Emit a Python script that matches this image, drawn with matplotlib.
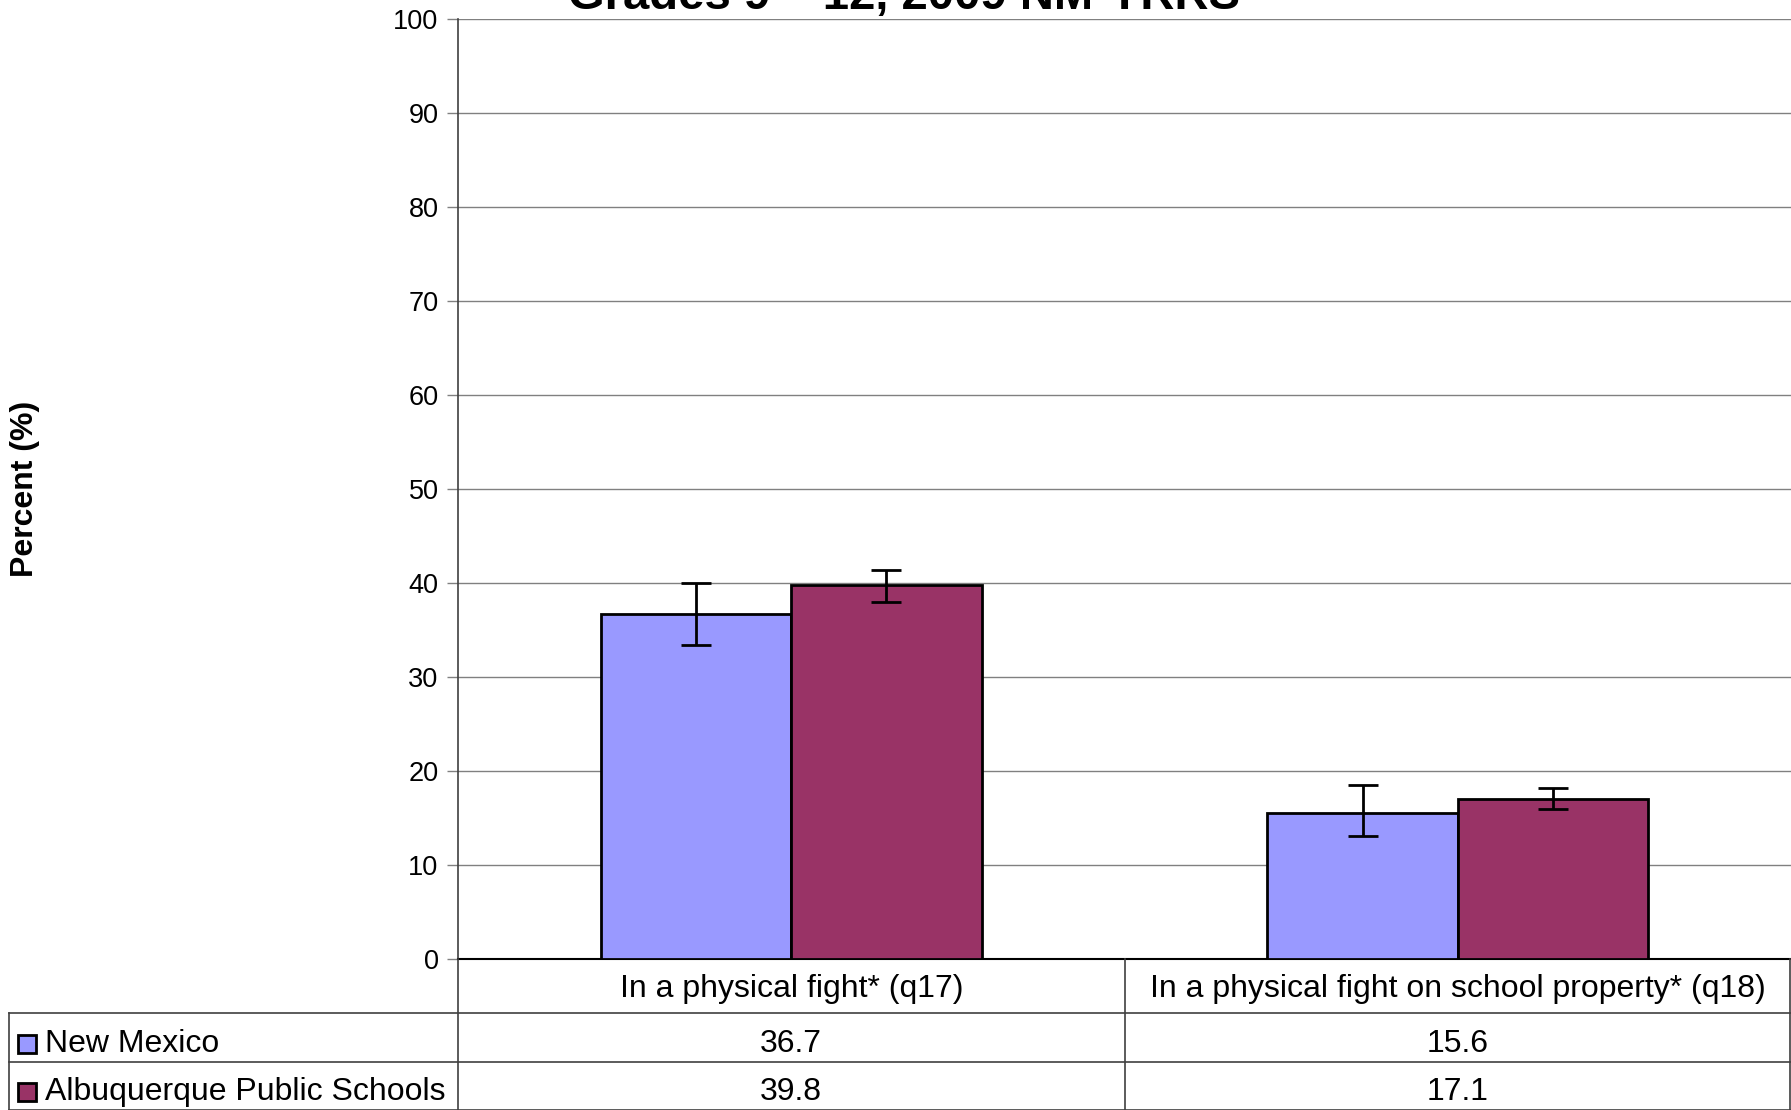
import matplotlib.pyplot as plt
import matplotlib.patches as mpatches
from matplotlib.lines import Line2D

plt.rcParams['font.family'] = ['Liberation Sans', 'DejaVu Sans']

# data
categories = ['In a physical fight* (q17)', 'In a physical fight on school property* (q18)']
series_names = ['New Mexico', 'Albuquerque Public Schools']
nm_values = [36.7, 15.6]
aps_values = [39.8, 17.1]
nm_lower = [33.4, 13.1]
nm_upper = [40.0, 18.5]
aps_lower = [38.0, 16.0]
aps_upper = [41.4, 18.2]
yticks = [0, 10, 20, 30, 40, 50, 60, 70, 80, 90, 100]
title = 'Grades 9 \u2013 12, 2009 NM-YRRS'

colors = ['#9999FF', '#993366']

W, H = 1791, 1110
fig = plt.figure(figsize=(W / 100, H / 100), dpi=100)


def fx(px):
    return px / W


def fy(py):
    return 1 - py / H


ax_l, ax_r, ax_t, ax_b = 458, 1791, 19.4, 959.3
ax = fig.add_axes([fx(ax_l), fy(ax_b), fx(ax_r - ax_l), (ax_b - ax_t) / H])

w = 1 / 3.5
xs = list(range(len(categories)))
series = [(nm_values, nm_lower, nm_upper), (aps_values, aps_lower, aps_upper)]
for i, (vals, lo, hi) in enumerate(series):
    pos = [x + (i - 0.5) * w for x in xs]
    ax.bar(pos, vals, width=w, color=colors[i], edgecolor='black', linewidth=2.0, zorder=3)
    yerr = [[v - l for v, l in zip(vals, lo)], [h - v for v, h in zip(vals, hi)]]
    ax.errorbar(pos, vals, yerr=yerr, fmt='none', ecolor='black', elinewidth=2.0,
                capsize=11, capthick=2.0, zorder=4)

ax.set_xlim(-0.5, len(categories) - 0.5)
ax.set_ylim(0, 100)
ax.set_yticks(yticks)
ax.set_xticks([])
ax.tick_params(axis='y', labelsize=19.5, length=8, width=1, color='#808080', pad=6)
ax.yaxis.grid(True, color='#808080', linewidth=1)
ax.set_axisbelow(True)
for s in ['top', 'right']:
    ax.spines[s].set_visible(False)
ax.spines['left'].set_color('#404040')
ax.spines['bottom'].set_color('black')
ax.spines['left'].set_linewidth(1.2)
ax.spines['bottom'].set_linewidth(1.5)

fig.text(fx(25), fy((ax_t + ax_b) / 2), 'Percent (%)', rotation=90, ha='center', va='center',
         fontsize=23, fontweight='bold')
fig.text(fx(904), fy(9), title, ha='center', va='baseline', fontsize=34, fontweight='bold')

# data table below the chart
row_y = [ax_b, 1013, 1062, 1110]
tab_left = 9
col_px = [ax_l + (ax_r - ax_l) * k / len(categories) for k in range(len(categories) + 1)]
lc = '#404040'
fs = 23


def hline(x0, x1, y):
    fig.add_artist(Line2D([fx(x0), fx(x1)], [fy(y), fy(y)], color=lc, linewidth=1.2))


def vline(x, y0, y1):
    fig.add_artist(Line2D([fx(x), fx(x)], [fy(y0), fy(y1)], color=lc, linewidth=1.2))


hline(tab_left, W, row_y[1])
hline(tab_left, W, row_y[2])
hline(tab_left, W, row_y[3] - 0.5)
vline(tab_left, row_y[1], row_y[3])
for cx in col_px[:-1]:
    vline(cx, row_y[0], row_y[3])
vline(W - 1, row_y[0], row_y[3])

for j, cat in enumerate(categories):
    cx = (col_px[j] + col_px[j + 1]) / 2
    fig.text(fx(cx), fy((row_y[0] + row_y[1]) / 2 + 3), cat, ha='center', va='center', fontsize=fs)
    for i, vals in enumerate([nm_values, aps_values]):
        fig.text(fx(cx), fy((row_y[i + 1] + row_y[i + 2]) / 2 + 6), f'{vals[j]:.1f}',
                 ha='center', va='center', fontsize=fs)

for i, name in enumerate(series_names):
    cy = (row_y[i + 1] + row_y[i + 2]) / 2 + 6
    sq = 18
    fig.add_artist(mpatches.Rectangle((fx(18), fy(cy + sq / 2)), fx(sq), sq / H,
                                      facecolor=colors[i], edgecolor='black', linewidth=2.0))
    fig.text(fx(45), fy(cy), name, ha='left', va='center', fontsize=fs)

fig.savefig('out.png', dpi=100)
